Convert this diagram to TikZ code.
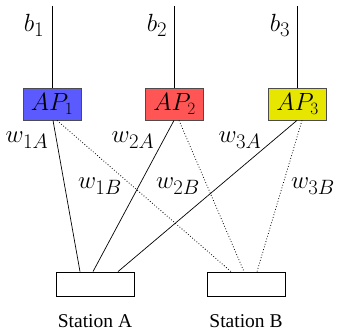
\documentclass[tikz,border=0pt]{standalone}
\usepackage{fontspec}
\newfontfamily\stationfont{Liberation Serif}
\begin{document}
\begin{tikzpicture}[x=1pt,y=-1pt,
  apbox/.style={draw=black!70,line width=0.8pt,minimum width=58pt,minimum height=32pt,inner sep=0pt,font=\fontsize{25}{28}\selectfont},
  stbox/.style={draw,line width=0.8pt,minimum width=78pt,minimum height=24pt,inner sep=0pt},
  blab/.style={inner sep=0pt,font=\fontsize{29}{32}\selectfont},
  lab/.style={inner sep=0pt,font=\fontsize{31}{34}\selectfont},
  stlab/.style={inner sep=0pt,font=\fontsize{19.5}{22}\stationfont},
  link/.style={line width=0.7pt},
  dlink/.style={line width=0.8pt,dotted}]
\useasboundingbox (0,0) rectangle (337,331);
\definecolor{apblue}{RGB}{90,90,255}
\definecolor{apred}{RGB}{255,85,85}
\definecolor{apyellow}{RGB}{230,230,0}
\node[apbox,fill=apblue] (AP1) at (52,104) {$AP_1$};
\node[apbox,fill=apred] (AP2) at (174.5,104) {$AP_2$};
\node[apbox,fill=apyellow] (AP3) at (297.5,104) {$AP_3$};
\coordinate (t1) at (52,6);
\coordinate (t2) at (174.5,6);
\coordinate (t3) at (297.5,6);
\draw[link] (t1) -- (AP1.north);
\draw[link] (t2) -- (AP2.north);
\draw[link] (t3) -- (AP3.north);
\node[blab] (b1) at (34,25) {$b_1$};
\node[blab] (b2) at (157,25) {$b_2$};
\node[blab] (b3) at (280,25) {$b_3$};
\node[stbox] (A) at (95,284) {};
\node[stbox] (B) at (246,284) {};
\node[stlab] (la) at (95,321) {Station A};
\node[stlab] (lb) at (246,321) {Station B};
\draw[link] ([xshift=1pt]AP1.south) -- ([xshift=-15pt]A.north);
\draw[link] ([xshift=-0.5pt]AP2.south) -- ([xshift=-2pt]A.north);
\draw[link] ([xshift=-0.5pt]AP3.south) -- ([xshift=23pt]A.north);
\draw[dlink] ([xshift=5pt]AP1.south) -- ([xshift=-15pt]B.north);
\draw[dlink] ([xshift=4.5pt]AP2.south) -- ([xshift=-2pt]B.north);
\draw[dlink] ([xshift=4.5pt]AP3.south) -- ([xshift=11pt]B.north);
\node[lab] (w1A) at (27,140) {$w_{1A}$};
\node[lab] (w2A) at (133,140) {$w_{2A}$};
\node[lab] (w3A) at (240,140) {$w_{3A}$};
\node[lab] (w1B) at (100,186) {$w_{1B}$};
\node[lab] (w2B) at (178,186) {$w_{2B}$};
\node[lab] (w3B) at (313,186) {$w_{3B}$};
\end{tikzpicture}
\end{document}
